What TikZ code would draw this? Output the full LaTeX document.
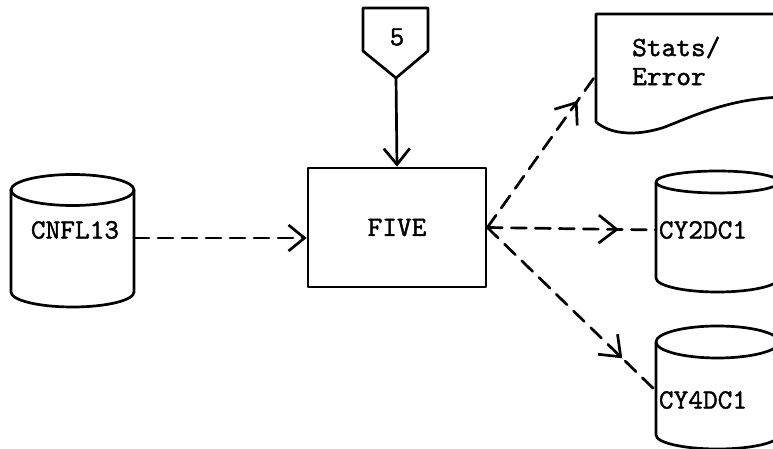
\documentclass[tikz,border=0pt]{standalone}
\usepackage{fontspec}
\newfontfamily\typew{lmmono10-regular}[Extension=.otf, FakeBold=1.3]
\usetikzlibrary{arrows.meta,decorations.markings}
\tikzset{
  lbl/.style={font=\fontsize{28}{29}\selectfont\typew, inner sep=0pt},
  ln/.style={line width=2.7pt, line join=round, line cap=round},
  flow/.style={ln, dash pattern=on 15pt off 9pt},
  barb/.style={-{Straight Barb[length=16pt,width=26pt]}},
  midarrow/.style={postaction={decorate}, decoration={markings,
      mark=at position #1 with {\arrow[line width=2.7pt, line cap=round]{Straight Barb[length=18pt,width=28pt]}}}},
  shapebox/.style={inner sep=0pt, outer sep=0pt, draw=none},
}
\begin{document}
\begin{tikzpicture}[x=1pt,y=1pt]
\useasboundingbox (0,0) rectangle (773,449);

% CNFL13 cylinder
\node[shapebox, minimum width=123pt, minimum height=102pt] (cnfl) at (72.5,211) {};
\draw[ln] (11,259) -- (11,157) arc[start angle=180,end angle=360,x radius=61.5,y radius=15] -- (134,259);
\draw[ln] (72.5,259) ellipse[x radius=61.5, y radius=15.5];
\node[lbl] (cnflt) at (75,219) {CNFL13};

% FIVE process box
\node[draw, ln, lbl, minimum width=178pt, minimum height=119pt] (five) at (397,221.5) {FIVE};

% off-page connector 5
\draw[ln] (363,441) -- (428,441) -- (428,398) -- (396,371) -- (363,398) -- cycle;
\node[shapebox, minimum width=65pt, minimum height=70pt] (conn) at (396,406) {};
\node[lbl] (connt) at (397,412) {5};

% Stats/Error document
\draw[ln] (790,435) -- (596,435) -- (596,327)
  .. controls (610,315) and (635,312) .. (665,322)
  .. controls (700,336) and (735,352) .. (790,352);
\node[shapebox, minimum width=194pt, minimum height=108pt] (doc) at (693,381) {};
\coordinate (docin) at (596,374);
\node[lbl, align=left, anchor=west] (doct) at (632,388) {Stats/\\Error};

% CY2DC1 cylinder
\node[shapebox, minimum width=123pt, minimum height=96pt] (cy2) at (717.5,219) {};
\draw[ln] (656,267) -- (656,171) arc[start angle=180,end angle=360,x radius=61.5,y radius=14] -- (779,267);
\draw[ln] (717.5,267) ellipse[x radius=61.5, y radius=11];
\node[lbl] (cy2t) at (703,219) {CY2DC1};

% CY4DC1 cylinder
\node[shapebox, minimum width=123pt, minimum height=93pt] (cy4) at (717.5,58) {};
\draw[ln] (656,107) -- (656,14) arc[start angle=180,end angle=360,x radius=61.5,y radius=14] -- (779,107);
\draw[ln] (717.5,107) ellipse[x radius=61.5, y radius=16];
\node[lbl] (cy4t) at (703,49) {CY4DC1};

% connectors
\draw[flow, barb] (cnfl.east) -- (cnfl.east -| five.west);
\draw[ln, barb] (conn.south) -- (five.north);
\draw[flow, midarrow=0.83] (five.east) -- (docin);
\draw[flow, midarrow=0.78] (five.east) -- (cy2.west);
\draw[flow, midarrow=0.8] (five.east) -- (cy4.west);
\end{tikzpicture}
\end{document}
